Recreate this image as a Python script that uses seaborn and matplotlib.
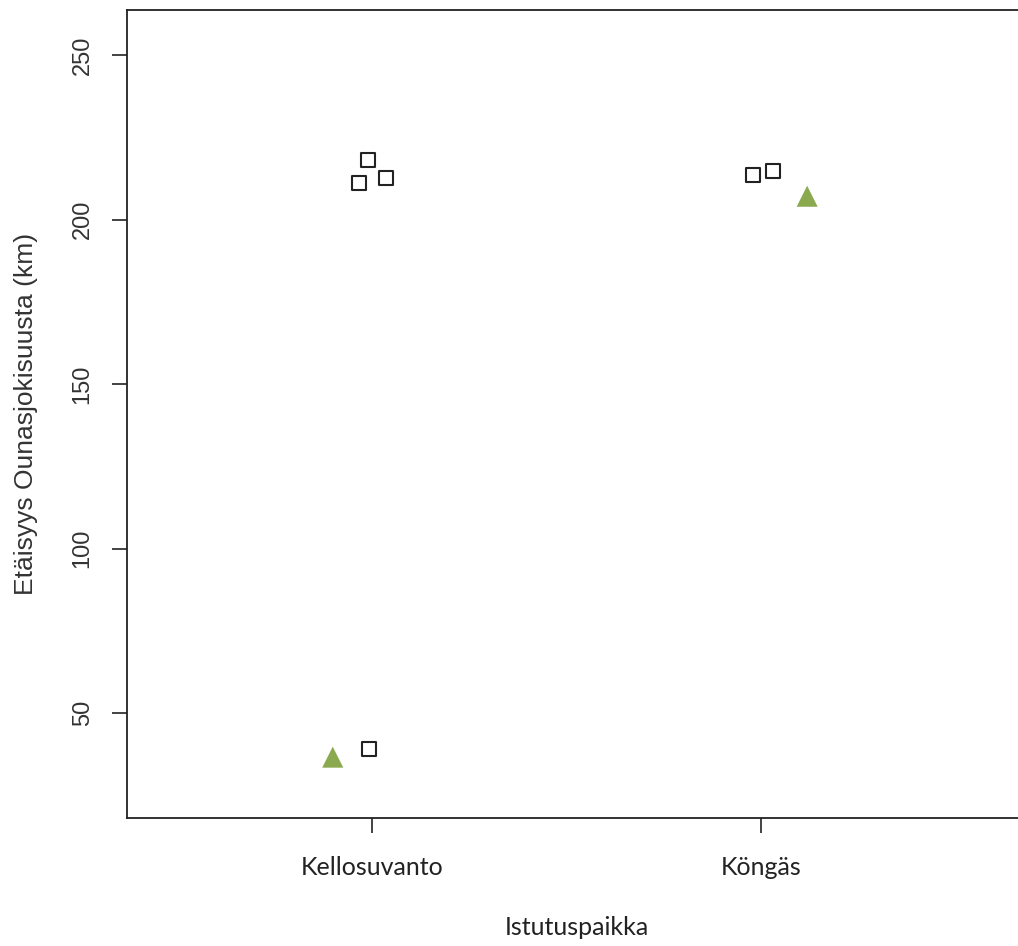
import pandas as pd
import seaborn as sns
import matplotlib.pyplot as plt

# categories and point values
sites = ["Kellosuvanto", "Köngäs"]
y_ticks = [50, 100, 150, 200, 250]

# open squares (jittered x position, distance km)
square_x = [0.966, 0.990, 1.036, 0.992, 1.979, 2.031]
square_y = [211.1, 218.1, 212.6, 39.1, 213.7, 214.9]

# green triangles
tri_x = [0.899, 2.119]
tri_y = [36.6, 207.1]

sns.set_style("white")
plt.rcParams["font.family"] = ["Liberation Sans", "DejaVu Sans"]

df_sq = pd.DataFrame({"x": square_x, "y": square_y})
df_tri = pd.DataFrame({"x": tri_x, "y": tri_y})

fig = plt.figure(figsize=(10.18, 9.46), dpi=100)
ax = fig.add_axes([0.1248, 0.1353, 0.89, 0.8541])

sns.scatterplot(data=df_sq, x="x", y="y", marker="s", s=90,
                facecolor="white", edgecolor="#222222", linewidth=1.5, ax=ax)
sns.scatterplot(data=df_tri, x="x", y="y", marker="^", s=230,
                color="#8BAA50", edgecolor="none", ax=ax)

ax.set_xlim(0.37, 2.70)
ax.set_ylim(18.1, 263.7)
ax.set_xticks([1, 2])
ax.set_xticklabels(sites, fontfamily="Lato", fontsize=18, color="#222222")
ax.set_yticks(y_ticks)
ax.set_yticklabels([str(v) for v in y_ticks], rotation=90,
                   va="center", fontsize=17, color="#333333")

ax.tick_params(axis="both", direction="out", length=11, width=1.2,
               color="#222222", left=True, bottom=True)
ax.tick_params(axis="x", pad=16)
ax.tick_params(axis="y", pad=13)
for side in ["left", "top", "bottom", "right"]:
    ax.spines[side].set_color("#222222")
    ax.spines[side].set_linewidth(1.3)

ax.set_xlabel("Istutuspaikka", fontfamily=["Liberation Sans Narrow", "Lato"],
              fontsize=18, color="#222222")
ax.xaxis.set_label_coords(0.497, -0.121)
ax.set_ylabel("Etäisyys Ounasjokisuusta (km)", fontsize=19, color="#333333")
ax.yaxis.set_label_coords(-0.098, 0.5)

fig.savefig("out.png", dpi=100)
